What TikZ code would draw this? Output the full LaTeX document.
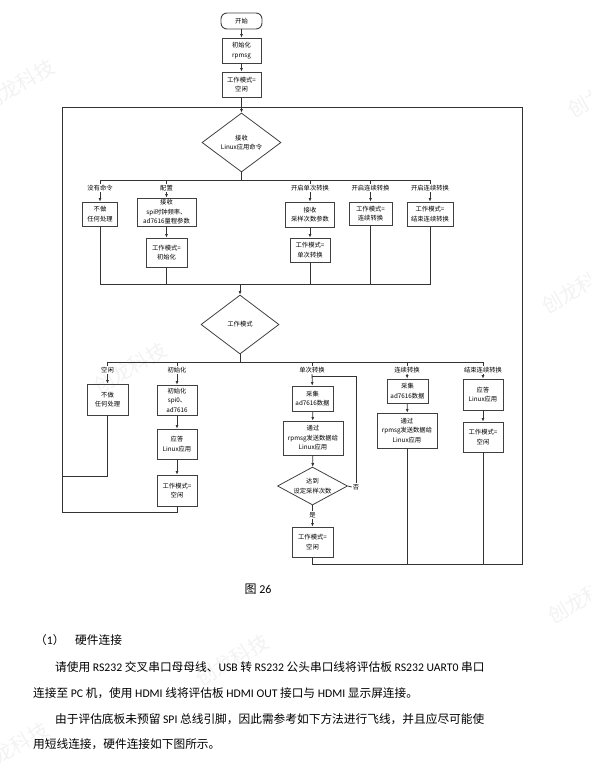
\documentclass[tikz,border=0pt]{standalone}
\usepackage{fontspec}
\setmainfont{Noto Sans CJK SC}
\newfontfamily\latf{Carlito}
\usetikzlibrary{shapes.geometric,arrows.meta}
\newcommand{\chartfont}{\fontsize{6.3}{9.5}\selectfont}
\newcommand{\bodyfont}{\fontsize{11.7}{14}\selectfont}
\newcommand{\latseg}[1]{{\latf #1}}

\begin{document}
\begin{tikzpicture}[x=1pt, y=-1pt, every node/.style={font=\chartfont},
  flowbox/.style 2 args={draw=black!75, line width=0.9pt, align=center, inner sep=0pt, minimum width=#1, minimum height=#2},
  decide/.style 2 args={draw=black!75, line width=0.8pt, diamond, align=center, inner sep=0pt, minimum width=#1, minimum height=#2},
  tag/.style={inner sep=1pt, fill=white},
  wire/.style={draw=black!80, line width=0.8pt},
  flow/.style={wire, -{Latex[length=3.5pt,width=3pt]}},
  wmark/.style={text=black!5, font=\fontsize{20}{20}\selectfont, rotate=30},
  para/.style={anchor=west, inner sep=0pt, font=\bodyfont}]
\useasboundingbox (0,0) rectangle (590,772);

% watermarks
\foreach \wx/\wy in {18/85, 604/92, 130/368, 578/288, 584/598, 232/660, 12/748}
  \node[wmark] at (\wx,\wy) {创龙科技};

% start
\node[flowbox={41pt}{16pt}, rounded corners=6pt] (start) at (241.5,21) {开始};
\node[flowbox={39pt}{25pt}] (rpinit) at (241.5,50.5) {初始化\\rpmsg};
\node[flowbox={39pt}{25pt}] (idle0) at (241.5,84.5) {工作模式=\\空闲};
\node[decide={79pt}{59pt}, aspect=1.34] (cmd) at (241.5,142.5) {接收\\Linux应用命令};
\coordinate (top) at (241.5,107);
\draw[flow] (start) -- (rpinit);
\draw[flow] (rpinit) -- (idle0);
\draw[flow] (idle0) -- (cmd);

% command branches
\coordinate (cmdbar) at (241.5,180);
\node[tag] (c1) at (100,188) {没有命令};
\node[tag] (c2) at (166.5,188) {配置};
\node[tag] (c3) at (310,188) {开启单次转换};
\node[tag] (c4) at (370.5,188) {开启连续转换};
\node[tag] (c5) at (430,188) {开启连续转换};
\draw[wire] (cmd.south) -- (cmdbar);
\draw[wire] (c1.north) -- (c1.north |- cmdbar) -- (c5.north |- cmdbar) -- (c5.north);
\foreach \c in {c2,c3,c4} \draw[wire] (\c.north) -- (\c.north |- cmdbar);

\node[flowbox={35pt}{24pt}] (nop1) at (100,214) {不做\\任何处理};
\node[flowbox={59pt}{28pt}] (cfg) at (166.5,212) {接收\\spi时钟频率、\\ad7616量程参数};
\node[flowbox={41pt}{29pt}] (cfgmode) at (166.5,252.5) {工作模式=\\初始化};
\node[flowbox={49pt}{25pt}] (cnt) at (310,214.5) {接收\\采样次数参数};
\node[flowbox={40pt}{24pt}] (onemode) at (310,250) {工作模式=\\单次转换};
\node[flowbox={43pt}{23pt}] (contmode) at (370.5,213.5) {工作模式=\\连续转换};
\node[flowbox={46pt}{24pt}] (stopmode) at (430,214) {工作模式=\\结束连续转换};
\draw[flow] (c1) -- (nop1);
\draw[flow] (c2) -- (cfg);
\draw[flow] (cfg) -- (cfgmode);
\draw[flow] (c3) -- (cnt);
\draw[flow] (cnt) -- (onemode);
\draw[flow] (c4) -- (contmode);
\draw[flow] (c5) -- (stopmode);

% merge into mode check
\coordinate (join1) at (240,284);
\draw[wire] (nop1.south) -- (nop1.south |- join1) -- (stopmode.south |- join1) -- (stopmode.south);
\foreach \b in {cfgmode,onemode,contmode} \draw[wire] (\b.south) -- (\b.south |- join1);
\node[decide={78pt}{59pt}, aspect=1.32] (mode) at (240,324.5) {工作模式};
\draw[flow] (join1) -- (mode);

% mode branches
\coordinate (modebar) at (240,362);
\node[tag] (m1) at (107.5,370) {空闲};
\node[tag] (m2) at (177,370) {初始化};
\node[tag] (m3) at (312,370) {单次转换};
\node[tag] (m4) at (407,370) {连续转换};
\node[tag] (m5) at (483,370) {结束连续转换};
\draw[wire] (mode.south) -- (modebar);
\draw[wire] (m1.north) -- (m1.north |- modebar) -- (m5.north |- modebar) -- (m5.north);
\foreach \m in {m2,m3,m4} \draw[wire] (\m.north) -- (\m.north |- modebar);

\node[flowbox={41pt}{31pt}] (nop2) at (107.5,399.5) {不做\\任何处理};
\node[flowbox={40pt}{30pt}] (initspi) at (177,400) {初始化\\spi0、\\ad7616};
\node[flowbox={40pt}{30pt}] (ack1) at (177,444) {应答\\Linux应用};
\node[flowbox={40pt}{31pt}] (idle1) at (177,490.5) {工作模式=\\空闲};
\draw[flow] (m1) -- (nop2);
\draw[flow] (m2) -- (initspi);
\draw[flow] (initspi) -- (ack1);
\draw[flow] (ack1) -- (idle1);

\node[flowbox={41pt}{25pt}] (sample) at (312.5,398.5) {采集\\ad7616数据};
\node[flowbox={60pt}{34pt}] (send) at (313,438) {通过\\rpmsg发送数据给\\Linux应用};
\node[decide={70pt}{38pt}, aspect=1.84] (reach) at (312.5,486) {达到\\设定采样次数};
\node[tag] (yes) at (312.5,515) {是};
\node[tag] (no) at (356,487) {否};
\node[flowbox={41pt}{30pt}] (idle2) at (312.5,542) {工作模式=\\空闲};
\coordinate (noturn) at (357,376);
\draw[flow] (m3) -- (sample);
\draw[flow] (sample) -- (send);
\draw[flow] (send) -- (reach);
\draw[wire] (reach) -- (yes);
\draw[flow] (yes) -- (idle2);
\draw[wire] (reach.east) -- (no.west);
\draw[wire] (no.north) -- (no.north |- noturn) -- (m3.south |- noturn);

\node[flowbox={41pt}{24pt}] (csample) at (407.5,391) {采集\\ad7616数据};
\node[flowbox={60pt}{35pt}] (csend) at (407,430.5) {通过\\rpmsg发送数据给\\Linux应用};
\node[flowbox={40pt}{31pt}] (sack) at (483,394.5) {应答\\Linux应用};
\node[flowbox={40pt}{30pt}] (sidle) at (483,437) {工作模式=\\空闲};
\draw[flow] (m4) -- (csample);
\draw[flow] (csample) -- (csend);
\draw[flow] (m5) -- (sack);
\draw[flow] (sack) -- (sidle);

% loops back to the command check
\coordinate (nopturn) at (62,476);
\coordinate (loopL) at (62,512);
\coordinate (loopR) at (522,564);
\draw[wire] (nop2.south) |- (nopturn);
\draw[wire] (idle1.south) |- (loopL) |- (top);
\draw[wire] (idle2.south) |- (loopR) |- (top);
\draw[wire] (csend.south) -- (csend.south |- loopR);
\draw[wire] (sidle.south) -- (sidle.south |- loopR);

% caption and text
\node[font=\fontsize{12}{12}\selectfont] (fig) at (258,589) {图 \latseg{26}};
\node[para] (sec) at (35,640) {（\latseg{1}）};
\node[para] (sectitle) at (75,640) {硬件连接};
\node[para] (p1) at (55,667) {请使用 \latseg{RS232} 交叉串口母母线、\latseg{USB} 转 \latseg{RS232} 公头串口线将评估板 \latseg{RS232 UART0} 串口};
\node[para] (p2) at (33,693) {连接至 \latseg{PC} 机，使用 \latseg{HDMI} 线将评估板 \latseg{HDMI OUT} 接口与 \latseg{HDMI} 显示屏连接。};
\node[para] (p3) at (55,719) {由于评估底板未预留 \latseg{SPI} 总线引脚，因此需参考如下方法进行飞线，并且应尽可能使};
\node[para] (p4) at (33,744) {用短线连接，硬件连接如下图所示。};
\end{tikzpicture}
\end{document}
